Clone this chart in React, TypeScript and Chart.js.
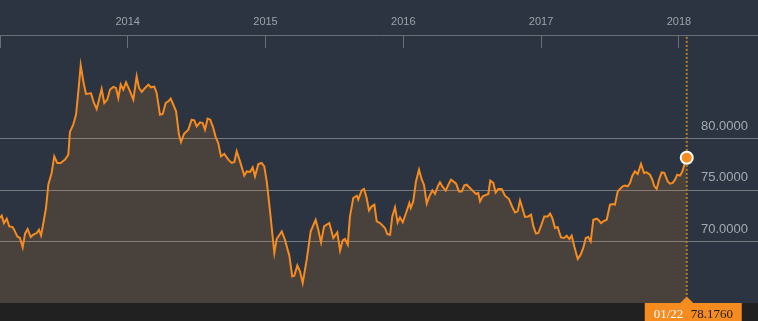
import React, { useEffect, useRef } from "react";
import { Chart, registerables } from "chart.js";

Chart.register(...registerables);

// Decimal-year dates of each observation
const dates: number[] = [
  2013.073, 2013.086, 2013.102, 2013.122, 2013.141, 2013.165, 2013.182, 2013.199, 2013.218, 2013.238,
  2013.255, 2013.274, 2013.296, 2013.315, 2013.340, 2013.356, 2013.371, 2013.388, 2013.407, 2013.424,
  2013.448, 2013.467, 2013.489, 2013.514, 2013.545, 2013.569, 2013.581, 2013.605, 2013.625, 2013.642,
  2013.659, 2013.678, 2013.697, 2013.734, 2013.755, 2013.775, 2013.811, 2013.830, 2013.852, 2013.872,
  2013.896, 2013.915, 2013.932, 2013.949, 2013.968, 2013.988, 2014.017, 2014.041, 2014.065, 2014.082,
  2014.102, 2014.126, 2014.150, 2014.169, 2014.193, 2014.210, 2014.234, 2014.254, 2014.276, 2014.295,
  2014.312, 2014.331, 2014.351, 2014.372, 2014.387, 2014.409, 2014.440, 2014.464, 2014.483, 2014.501,
  2014.525, 2014.544, 2014.561, 2014.580, 2014.599, 2014.621, 2014.639, 2014.657, 2014.677, 2014.701,
  2014.730, 2014.755, 2014.774, 2014.791, 2014.815, 2014.846, 2014.864, 2014.888, 2014.907, 2014.924,
  2014.948, 2014.972, 2014.991, 2015.009, 2015.033, 2015.064, 2015.081, 2015.118, 2015.141, 2015.173,
  2015.194, 2015.209, 2015.231, 2015.250, 2015.270, 2015.299, 2015.328, 2015.364, 2015.383, 2015.403,
  2015.425, 2015.463, 2015.492, 2015.521, 2015.541, 2015.560, 2015.577, 2015.597, 2015.613, 2015.637,
  2015.662, 2015.673, 2015.698, 2015.715, 2015.734, 2015.751, 2015.771, 2015.790, 2015.807, 2015.831,
  2015.867, 2015.884, 2015.904, 2015.920, 2015.940, 2015.959, 2015.976, 2015.996, 2016.020, 2016.044,
  2016.054, 2016.072, 2016.092, 2016.114, 2016.134, 2016.150, 2016.170, 2016.189, 2016.211, 2016.230,
  2016.250, 2016.266, 2016.286, 2016.308, 2016.327, 2016.346, 2016.363, 2016.383, 2016.404, 2016.424,
  2016.443, 2016.460, 2016.484, 2016.508, 2016.528, 2016.544, 2016.557, 2016.576, 2016.605, 2016.617,
  2016.631, 2016.653, 2016.670, 2016.689, 2016.714, 2016.738, 2016.767, 2016.791, 2016.811, 2016.830,
  2016.847, 2016.864, 2016.883, 2016.907, 2016.927, 2016.944, 2016.963, 2016.980, 2017.000, 2017.023,
  2017.048, 2017.065, 2017.081, 2017.101, 2017.120, 2017.144, 2017.168, 2017.186, 2017.205, 2017.222,
  2017.241, 2017.266, 2017.287, 2017.306, 2017.324, 2017.342, 2017.360, 2017.379, 2017.404, 2017.415,
  2017.435, 2017.451, 2017.476, 2017.500, 2017.524, 2017.536, 2017.556, 2017.573, 2017.592, 2017.609,
  2017.628, 2017.645, 2017.662, 2017.681, 2017.701, 2017.725, 2017.747, 2017.766, 2017.790, 2017.807,
  2017.822, 2017.839, 2017.856, 2017.875, 2017.894, 2017.919, 2017.935, 2017.955, 2017.972, 2017.988,
  2018.008, 2018.025, 2018.044, 2018.057,
];

const rates: number[] = [
  72.33, 72.55, 71.84, 72.26, 71.51, 71.45, 71.03, 70.54, 70.39, 69.48,
  70.81, 71.26, 70.48, 70.71, 70.87, 71.19, 70.64, 71.84, 73.30, 75.56,
  76.70, 78.31, 77.67, 77.67, 77.99, 78.47, 80.68, 81.39, 82.36, 84.62,
  87.15, 85.59, 84.37, 84.43, 83.49, 82.91, 84.85, 83.49, 83.82, 84.79,
  85.05, 84.95, 83.98, 85.27, 84.79, 85.49, 84.62, 83.82, 86.08, 84.95,
  84.56, 84.95, 85.27, 85.01, 85.08, 84.47, 82.36, 82.43, 83.49, 83.65,
  83.91, 83.33, 82.68, 80.42, 79.71, 80.49, 80.90, 81.87, 81.81, 81.22,
  81.61, 81.55, 80.90, 81.97, 81.87, 81.07, 80.15, 79.61, 78.31, 78.54,
  77.99, 77.67, 77.77, 78.80, 77.82, 76.44, 76.85, 76.80, 77.24, 76.37,
  77.57, 77.67, 77.34, 75.88, 72.97, 68.93, 70.29, 71.03, 70.22, 68.67,
  66.66, 66.73, 67.73, 67.15, 66.02, 68.28, 71.03, 72.16, 71.19, 69.96,
  71.51, 71.84, 70.39, 70.93, 69.18, 70.15, 70.29, 69.74, 72.48, 74.27,
  74.49, 74.11, 75.01, 75.15, 74.27, 73.07, 73.46, 73.62, 72.00, 71.84,
  71.36, 70.77, 70.71, 72.48, 73.36, 71.90, 72.39, 71.90, 72.81, 73.79,
  73.30, 73.94, 75.88, 77.02, 76.05, 75.56, 73.72, 74.43, 75.01, 74.66,
  75.40, 75.79, 75.34, 74.98, 75.56, 76.05, 75.88, 75.66, 74.91, 74.91,
  75.49, 75.56, 75.24, 74.91, 74.66, 74.76, 73.94, 74.43, 74.59, 74.66,
  75.95, 75.73, 74.81, 75.14, 75.14, 74.49, 74.17, 73.40, 72.87, 72.97,
  74.04, 73.30, 72.43, 72.48, 72.65, 71.51, 70.81, 70.87, 71.58, 72.48,
  72.48, 72.75, 72.33, 71.36, 71.46, 70.45, 70.39, 70.61, 70.29, 70.61,
  69.57, 68.35, 68.77, 69.42, 70.39, 70.49, 70.06, 72.16, 72.26, 72.16,
  71.84, 72.00, 72.16, 73.62, 73.69, 73.62, 74.91, 75.15, 75.40, 75.47,
  75.40, 75.73, 76.44, 76.85, 76.60, 77.57, 76.70, 76.76, 76.53, 76.05,
  75.40, 75.15, 76.05, 76.76, 76.70, 75.88, 75.66, 75.73, 76.05, 76.53,
  76.44, 76.85, 77.67, 78.176,
];

const yearTicks: number[] = [2014, 2015, 2016, 2017, 2018];
const valueTicks: number[] = [70, 75, 80];
const endDateLabel = "01/22";

const BG = "#2b3440";
const ORANGE = "#f68b1f";
// Chart.js adds the x tick padding on both sides of the plot; the canvas is
// made that much wider and shifted so that the plot spans the full frame.
const SIDE = 19;
const LIFT = 4;

export default function App() {
  const ref = useRef<HTMLCanvasElement | null>(null);

  useEffect(() => {
    const canvas = ref.current;
    if (!canvas) return;
    const xMin = 2013.0733;
    const xMax = 2018.574;
    const last = rates.length - 1;

    const markerPlugin = {
      id: "marker",
      beforeDatasetsDraw(chart: any) {
        const { ctx, chartArea } = chart;
        const x = chart.scales.x.getPixelForValue(dates[last]);
        ctx.save();
        ctx.strokeStyle = "#b57f22";
        ctx.lineWidth = 2;
        ctx.setLineDash([2, 2]);
        ctx.beginPath();
        ctx.moveTo(x, chartArea.top + 1);
        ctx.lineTo(x, chartArea.bottom - 6);
        ctx.stroke();
        ctx.restore();
      },
      afterDraw(chart: any) {
        const { ctx, chartArea, width, height } = chart;
        const x = chart.scales.x.getPixelForValue(dates[last]);
        const b = chartArea.bottom;
        ctx.save();
        ctx.fillStyle = "#212121";
        ctx.fillRect(0, b, width, height - b);
        ctx.fillStyle = ORANGE;
        ctx.fillRect(x - 42, b, 97, height - b);
        ctx.beginPath();
        ctx.moveTo(x - 7, b + 0.5);
        ctx.lineTo(x, b - 6.5);
        ctx.lineTo(x + 7, b + 0.5);
        ctx.closePath();
        ctx.fill();
        ctx.font = "13px 'Liberation Serif', serif";
        ctx.textBaseline = "alphabetic";
        ctx.textAlign = "left";
        ctx.fillStyle = "#ffffff";
        ctx.fillText(endDateLabel, x - 33, b + 14.5);
        ctx.fillStyle = "#1c1c1c";
        ctx.fillText(rates[last].toFixed(4), x + 4, b + 14.5);
        ctx.restore();
      },
    };

    const chart = new Chart(canvas, {
      type: "line",
      data: {
        datasets: [
          {
            data: dates.map((d, i) => ({ x: d, y: rates[i] })),
            borderColor: ORANGE,
            borderWidth: 2,
            backgroundColor: "rgba(246,139,31,0.15)",
            fill: "start",
            tension: 0,
            pointRadius: (c: any) => (c.dataIndex === last ? 6 : 0),
            pointBackgroundColor: ORANGE,
            pointBorderColor: "#ffffff",
            pointBorderWidth: 2,
            pointHoverRadius: 0,
          },
        ],
      },
      options: {
        animation: false,
        responsive: false,
        devicePixelRatio: 1,
        layout: { padding: { top: 0.7, bottom: 18, left: 0, right: 0 } },
        plugins: { legend: { display: false }, tooltip: { enabled: false } },
        scales: {
          x: {
            type: "linear",
            position: "top",
            min: xMin,
            max: xMax,
            afterBuildTicks: (s: any) => {
              s.ticks = [xMin, ...yearTicks, xMax].map((v) => ({ value: v }));
            },
            ticks: {
              autoSkip: false,
              maxRotation: 0,
              padding: SIDE,
              color: "#9ba3ab",
              font: { size: 11, family: "'Liberation Sans', Arial, sans-serif" },
              callback: (v: any) => (yearTicks.includes(Number(v)) ? String(v) : ""),
            },
            grid: { drawOnChartArea: false, drawTicks: true, tickLength: -12, color: "#6b7077" },
            border: { display: true, color: "#6b7077" },
          },
          y: {
            position: "right",
            min: 64.08,
            max: 90.0,
            afterBuildTicks: (s: any) => {
              s.ticks = valueTicks.map((v) => ({ value: v }));
            },
            ticks: {
              mirror: true,
              padding: -10,
              labelOffset: -13,
              color: "#a3abb3",
              font: { size: 13, family: "'Liberation Sans', Arial, sans-serif" },
              callback: (v: any) => Number(v).toFixed(4),
            },
            grid: { color: "#767b82", drawTicks: false },
            border: { display: false },
          },
        },
      },
      plugins: [markerPlugin],
    } as any);

    return () => chart.destroy();
  }, []);

  return (
    <div
      style={{
        position: "fixed",
        left: 0,
        top: 0,
        width: 758,
        height: 321,
        overflow: "hidden",
        background: BG,
      }}
    >
      <canvas
        ref={ref}
        width={758 + 2 * SIDE}
        height={321 + LIFT}
        style={{ position: "absolute", left: -SIDE, top: -LIFT, display: "block" }}
      />
    </div>
  );
}
